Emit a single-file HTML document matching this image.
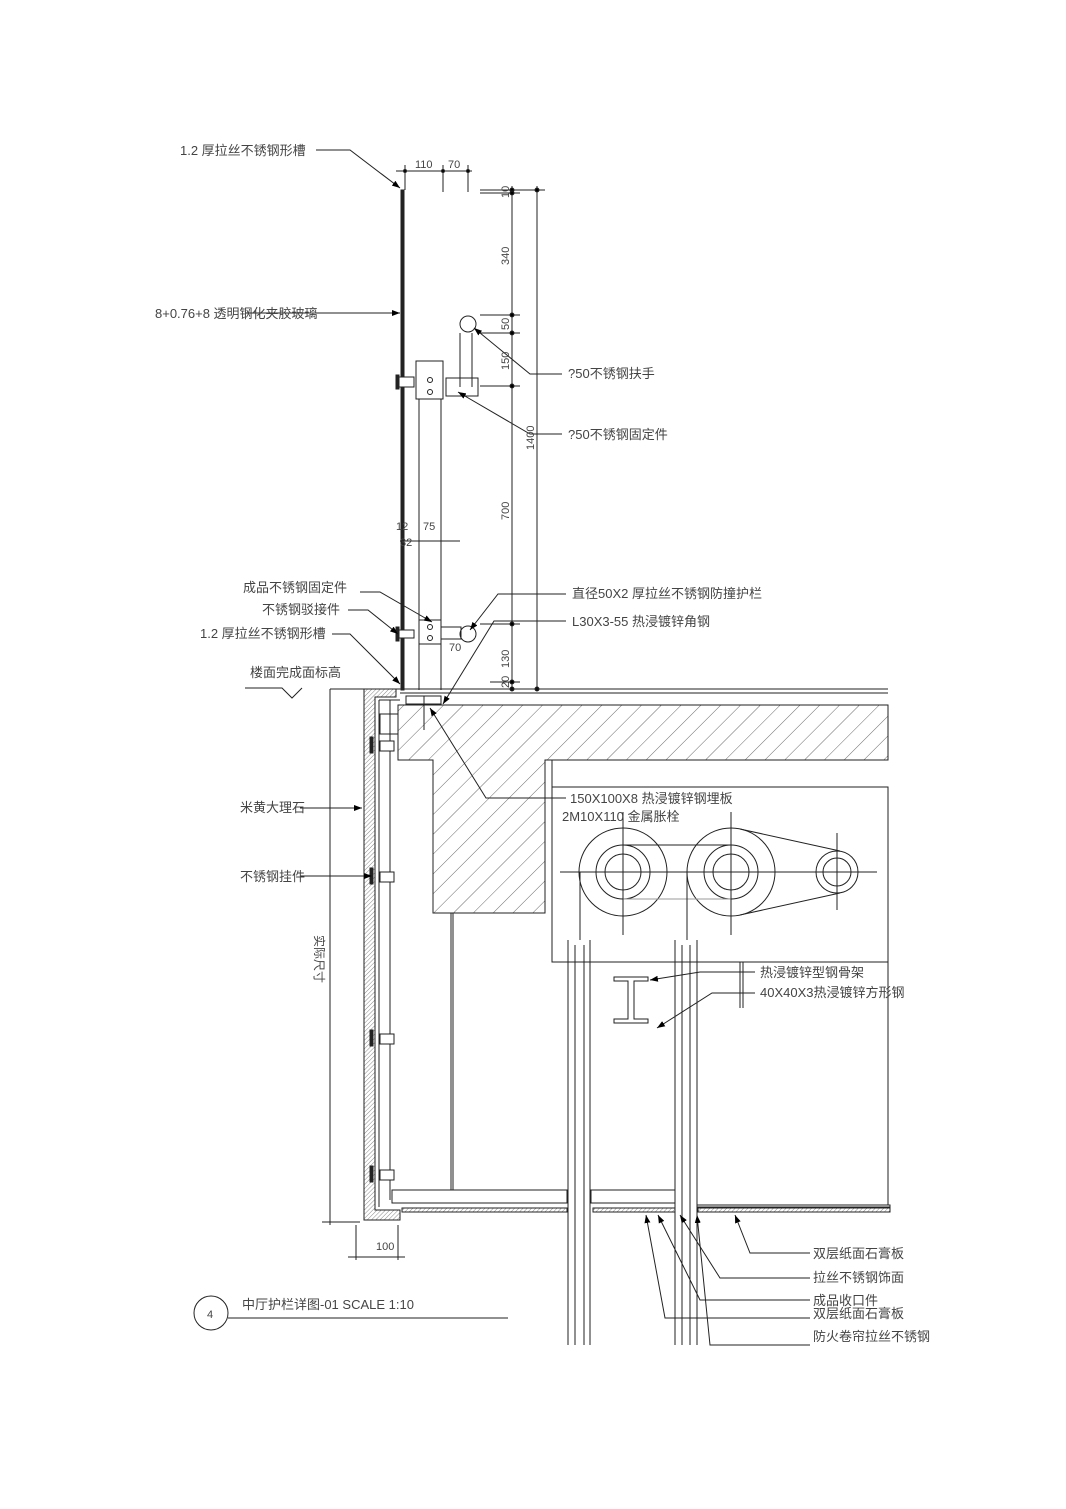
<!DOCTYPE html>
<html><head><meta charset="utf-8">
<style>
html,body{margin:0;padding:0;background:#fff}
svg{display:block}
text{font-family:"Liberation Sans","Noto Sans CJK SC",sans-serif;fill:#444}
</style></head><body>
<svg width="1066" height="1509" viewBox="0 0 1066 1509" xmlns="http://www.w3.org/2000/svg">
<defs>
<pattern id="hat" width="14" height="14" patternUnits="userSpaceOnUse" patternTransform="rotate(45)">
<line x1="0" y1="0" x2="0" y2="14" stroke="#444" stroke-width="0.8"/></pattern>
<pattern id="fine" width="3" height="3" patternUnits="userSpaceOnUse" patternTransform="rotate(45)">
<line x1="0" y1="0" x2="0" y2="3" stroke="#555" stroke-width="0.7"/></pattern>
<marker id="ar" markerWidth="8" markerHeight="6" refX="8" refY="3" orient="auto"><path d="M0,0 L8,3 L0,6z" fill="#000"/></marker>
</defs>
<g stroke="#222" stroke-width="1" fill="none">
<rect x="401" y="190" width="3" height="500" fill="#222"/>
<line x1="396" y1="171" x2="472" y2="171"/>
<line x1="405" y1="165" x2="405" y2="190"/><line x1="443" y1="165" x2="443" y2="192"/><line x1="468" y1="165" x2="468" y2="192"/>
<circle cx="405" cy="171" r="1.5" fill="#000"/><circle cx="443" cy="171" r="1.5" fill="#000"/><circle cx="468" cy="171" r="1.5" fill="#000"/>
<line x1="512" y1="186" x2="512" y2="690"/>
<line x1="537" y1="186" x2="537" y2="690"/>
<line x1="480" y1="190" x2="545" y2="190"/><line x1="480" y1="193" x2="520" y2="193"/>
<line x1="480" y1="315" x2="520" y2="315"/><line x1="480" y1="333" x2="520" y2="333"/>
<line x1="480" y1="386" x2="520" y2="386"/>
<line x1="480" y1="624" x2="520" y2="624"/>
<line x1="490" y1="682" x2="520" y2="682"/><line x1="490" y1="689" x2="545" y2="689"/>
<g fill="#000"><circle cx="512" cy="190" r="2"/><circle cx="512" cy="193" r="2"/><circle cx="512" cy="315" r="2"/><circle cx="512" cy="333" r="2"/><circle cx="512" cy="386" r="2"/><circle cx="512" cy="624" r="2"/><circle cx="512" cy="682" r="2"/><circle cx="512" cy="689" r="2"/><circle cx="537" cy="190" r="2"/><circle cx="537" cy="689" r="2"/></g>
<circle cx="468" cy="324" r="8"/>
<line x1="460" y1="333" x2="460" y2="387"/><line x1="472" y1="333" x2="472" y2="387"/>
<rect x="446" y="378" width="32" height="18"/>
<rect x="416" y="361" width="27" height="38"/>
<line x1="419" y1="399" x2="419" y2="620"/><line x1="441" y1="399" x2="441" y2="620"/>
<rect x="398" y="377" width="16" height="10" fill="#fff"/><rect x="396" y="375" width="3" height="14" fill="#222"/>
<circle cx="430" cy="380" r="2.5"/><circle cx="430" cy="392" r="2.5"/>
<circle cx="468" cy="634" r="8"/>
<rect x="419" y="620" width="22" height="24"/><rect x="441" y="627" width="20" height="12"/>
<line x1="419" y1="644" x2="419" y2="690"/><line x1="441" y1="644" x2="441" y2="690"/>
<rect x="398" y="630" width="16" height="8" fill="#fff"/><rect x="396" y="627" width="3" height="14" fill="#222"/>
<circle cx="430" cy="627" r="2.5"/><circle cx="430" cy="638" r="2.5"/>
<line x1="400" y1="541" x2="460" y2="541"/>
<line x1="330" y1="689" x2="888" y2="689"/>
<line x1="400" y1="693" x2="888" y2="693"/>
<path d="M398,705 L888,705 L888,760 L545,760 L545,913 L433,913 L433,760 L398,760 Z" fill="url(#hat)"/>
<rect x="406" y="696" width="35" height="8" fill="#fff"/>
<line x1="424" y1="696" x2="424" y2="730"/>
<rect x="380" y="714" width="18" height="20" fill="#fff"/>
<path d="M364,689 L396,689 L396,697 L375,697 L375,1210 L400,1210 L400,1220 L364,1220 Z" fill="url(#fine)"/>
<line x1="379" y1="700" x2="379" y2="1207"/><line x1="390" y1="700" x2="390" y2="1200"/>
<line x1="379" y1="700" x2="400" y2="700"/>
<line x1="451" y1="913" x2="451" y2="1190"/><line x1="453" y1="913" x2="453" y2="1190"/>
<g fill="#fff">
<rect x="370" y="737" width="3" height="16" fill="#222"/><rect x="380" y="741" width="14" height="10"/>
<rect x="370" y="868" width="3" height="16" fill="#222"/><rect x="380" y="872" width="14" height="10"/>
<rect x="370" y="1030" width="3" height="16" fill="#222"/><rect x="380" y="1034" width="14" height="10"/>
<rect x="370" y="1166" width="3" height="16" fill="#222"/><rect x="380" y="1170" width="14" height="10"/>
</g>
<rect x="392" y="1190" width="175" height="13"/>
<rect x="591" y="1190" width="84" height="13"/>
<rect x="697" y="1205" width="193" height="2"/>
<rect x="402" y="1208" width="165" height="4" fill="url(#fine)"/>
<rect x="593" y="1208" width="82" height="4" fill="url(#fine)"/>
<rect x="698" y="1208" width="192" height="4" fill="url(#fine)"/>
<polyline points="552,760 552,962 888,962 888,787 552,787"/>
<line x1="888" y1="962" x2="888" y2="1205"/>
<line x1="568" y1="940" x2="568" y2="1345"/><line x1="575" y1="945" x2="575" y2="1345"/>
<line x1="584" y1="945" x2="584" y2="1345"/><line x1="590" y1="940" x2="590" y2="1345"/>
<line x1="675" y1="940" x2="675" y2="1345"/><line x1="682" y1="945" x2="682" y2="1345"/>
<line x1="690" y1="945" x2="690" y2="1345"/><line x1="697" y1="940" x2="697" y2="1345"/>
<circle cx="623" cy="872" r="44"/><circle cx="623" cy="872" r="27"/><circle cx="623" cy="872" r="18"/>
<circle cx="731" cy="872" r="44"/><circle cx="731" cy="872" r="27"/><circle cx="731" cy="872" r="18"/>
<circle cx="837" cy="872" r="21"/><circle cx="837" cy="872" r="14"/>
<line x1="623" y1="845" x2="731" y2="845"/><line x1="623" y1="899" x2="731" y2="899" stroke="#999"/>
<line x1="560" y1="872" x2="877" y2="872"/>
<line x1="623" y1="812" x2="623" y2="935"/><line x1="731" y1="812" x2="731" y2="935"/><line x1="837" y1="833" x2="837" y2="910"/>
<line x1="580" y1="872" x2="580" y2="940"/><line x1="687" y1="872" x2="687" y2="940"/>
<line x1="740" y1="829" x2="840" y2="851"/><line x1="740" y1="915" x2="840" y2="893"/>
<path d="M614,977 h34 v4 h-14 v38 h14 v4 h-34 v-4 h14 v-38 h-14z"/>
<line x1="740" y1="962" x2="740" y2="1008"/><line x1="743" y1="962" x2="743" y2="1008"/>
<line x1="330" y1="689" x2="330" y2="1225"/><line x1="322" y1="1222" x2="360" y2="1222"/>
<line x1="356" y1="1225" x2="356" y2="1260"/><line x1="398" y1="1225" x2="398" y2="1260"/>
<line x1="348" y1="1257" x2="405" y2="1257"/>
<polyline points="316,150 350,150 400,188" marker-end="url(#ar)"/>
<line x1="245" y1="313" x2="400" y2="313" marker-end="url(#ar)"/>
<polyline points="562,374 530,374 474,328" marker-end="url(#ar)"/>
<polyline points="562,434 530,434 458,392" marker-end="url(#ar)"/>
<polyline points="360,592 380,592 432,622" marker-end="url(#ar)"/>
<polyline points="348,610 368,610 398,634" marker-end="url(#ar)"/>
<polyline points="332,634 350,634 400,684" marker-end="url(#ar)"/>
<polyline points="566,594 498,594 470,630" marker-end="url(#ar)"/>
<polyline points="566,621 494,621 443,704" marker-end="url(#ar)"/>
<polyline points="245,688 282,688 292,698 302,688"/>
<polyline points="566,798 486,798 430,708" marker-end="url(#ar)"/>
<line x1="300" y1="808" x2="362" y2="808" marker-end="url(#ar)"/>
<line x1="300" y1="876" x2="372" y2="876" marker-end="url(#ar)"/>
<polyline points="755,972 700,972 650,980" marker-end="url(#ar)"/>
<polyline points="755,993 712,993 657,1028" marker-end="url(#ar)"/>
<polyline points="810,1253 750,1253 735,1215" marker-end="url(#ar)"/>
<polyline points="810,1278 720,1278 680,1215" marker-end="url(#ar)"/>
<polyline points="810,1300 700,1300 658,1215" marker-end="url(#ar)"/>
<polyline points="810,1318 665,1318 646,1215" marker-end="url(#ar)"/>
<polyline points="810,1345 710,1345 697,1215" marker-end="url(#ar)"/>
<circle cx="211" cy="1313" r="17"/>
<line x1="228" y1="1318" x2="508" y2="1318"/>
</g>
<g font-size="13">
<text x="180" y="155">1.2 厚拉丝不锈钢形槽</text>
<text x="155" y="318">8+0.76+8 透明钢化夹胶玻璃</text>
<text x="568" y="378">?50不锈钢扶手</text>
<text x="568" y="439">?50不锈钢固定件</text>
<text x="243" y="592">成品不锈钢固定件</text>
<text x="262" y="614">不锈钢驳接件</text>
<text x="200" y="638">1.2 厚拉丝不锈钢形槽</text>
<text x="250" y="677">楼面完成面标高</text>
<text x="572" y="598">直径50X2 厚拉丝不锈钢防撞护栏</text>
<text x="572" y="626">L30X3-55 热浸镀锌角钢</text>
<text x="570" y="803">150X100X8 热浸镀锌钢埋板</text>
<text x="562" y="821">2M10X110 金属胀栓</text>
<text x="240" y="812">米黄大理石</text>
<text x="240" y="881">不锈钢挂件</text>
<text x="760" y="977">热浸镀锌型钢骨架</text>
<text x="760" y="997">40X40X3热浸镀锌方形钢</text>
<text x="813" y="1258">双层纸面石膏板</text>
<text x="813" y="1282">拉丝不锈钢饰面</text>
<text x="813" y="1305">成品收口件</text>
<text x="813" y="1318">双层纸面石膏板</text>
<text x="813" y="1341">防火卷帘拉丝不锈钢</text>
<text x="242" y="1309" font-family="Liberation Serif,'Noto Serif CJK SC',serif">中厅护栏详图-01   SCALE     1:10</text>
</g>
<g font-size="11">
<text x="415" y="168">110</text><text x="448" y="168">70</text>
<text x="396" y="530">12</text><text x="423" y="530">75</text><text x="400" y="546">32</text>
<text x="449" y="651">70</text>
<text x="376" y="1250">100</text>
<text x="210" y="1318" text-anchor="middle">4</text>
<text transform="translate(509,198) rotate(-90)">10</text>
<text transform="translate(509,265) rotate(-90)">340</text>
<text transform="translate(509,330) rotate(-90)">50</text>
<text transform="translate(509,370) rotate(-90)">150</text>
<text transform="translate(509,520) rotate(-90)">700</text>
<text transform="translate(534,450) rotate(-90)">1400</text>
<text transform="translate(509,668) rotate(-90)">130</text>
<text transform="translate(509,688) rotate(-90)">20</text>
<text transform="translate(315,935) rotate(90)" font-size="12">实际尺寸</text>
</g>
</svg>
</body></html>
